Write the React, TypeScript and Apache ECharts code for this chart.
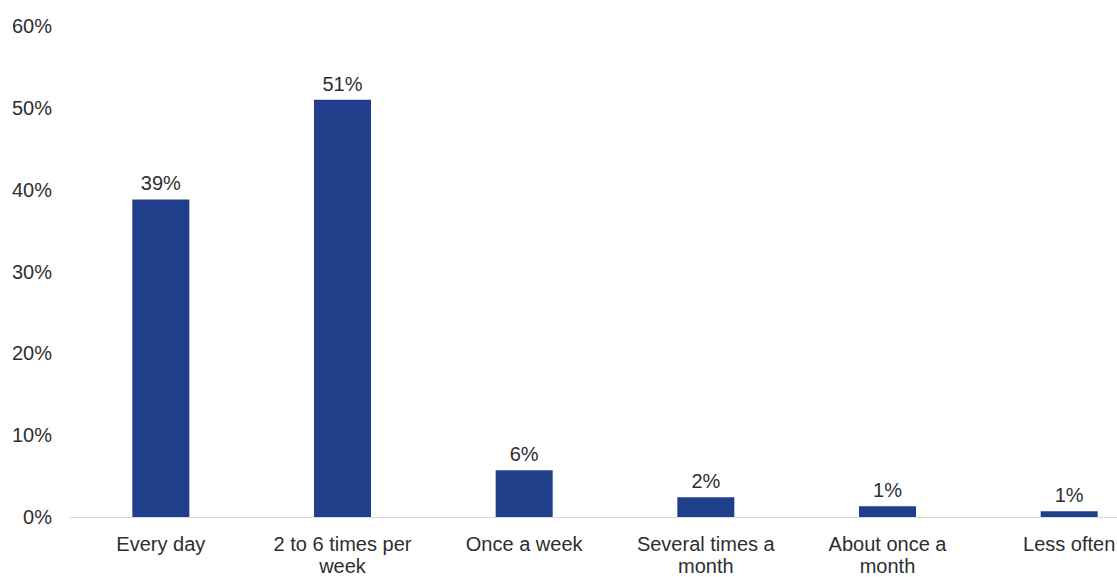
import React, { useEffect, useRef } from "react";
import * as echarts from "echarts";

// How often respondents do the activity (share of respondents, %)
const categories = [
  "Every day",
  "2 to 6 times per\nweek",
  "Once a week",
  "Several times a\nmonth",
  "About once a\nmonth",
  "Less often",
];
const shares = [38.8, 51.0, 5.7, 2.4, 1.3, 0.7];
const yTicks = [0, 10, 20, 30, 40, 50, 60];

const BAR_COLOR = "#1f3f8a";
const TEXT_COLOR = "#2e2e2e";
const FONT = "'Liberation Sans', Arial, sans-serif";

export default function App() {
  const ref = useRef<HTMLDivElement>(null);

  useEffect(() => {
    if (!ref.current) return;
    const chart = echarts.init(ref.current, undefined, { renderer: "svg" });
    chart.setOption({
      animation: false,
      backgroundColor: "#ffffff",
      textStyle: { fontFamily: FONT },
      grid: { left: 70, right: 0, top: 26, bottom: 57, containLabel: false },
      xAxis: {
        type: "category",
        data: categories,
        axisLine: { show: true, lineStyle: { color: "#d9d9d9", width: 1 } },
        axisTick: { show: false },
        axisLabel: {
          color: TEXT_COLOR,
          fontSize: 20,
          fontFamily: FONT,
          margin: 16,
          lineHeight: 22,
          interval: 0,
        },
      },
      yAxis: {
        type: "value",
        min: yTicks[0],
        max: yTicks[yTicks.length - 1],
        interval: 10,
        splitLine: { show: false },
        axisLine: { show: false },
        axisTick: { show: false },
        axisLabel: {
          color: TEXT_COLOR,
          fontSize: 20,
          fontFamily: FONT,
          margin: 18,
          formatter: (v: number) => `${v}%`,
        },
      },
      series: [
        {
          type: "bar",
          data: shares,
          barWidth: 57,
          itemStyle: { color: BAR_COLOR },
          label: {
            show: true,
            position: "top",
            distance: 6,
            color: TEXT_COLOR,
            fontSize: 20,
            fontFamily: FONT,
            formatter: (p: any) => `${Math.round(p.value)}%`,
          },
        },
      ],
    });
    return () => chart.dispose();
  }, []);

  // The chart is wider than the viewport; the frame clips its right edge,
  // so the last category label is cut off.
  return (
    <div
      style={{
        position: "fixed",
        left: 0,
        top: 0,
        width: 1117,
        height: 577,
        overflow: "hidden",
        background: "#ffffff",
      }}
    >
      <div ref={ref} style={{ width: 1160, height: 577 }} />
    </div>
  );
}
